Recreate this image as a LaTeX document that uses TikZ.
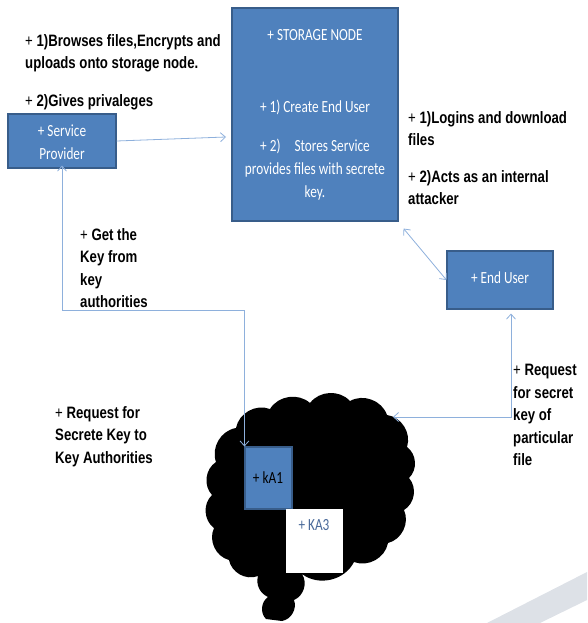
\documentclass[tikz,border=0pt]{standalone}
\usepackage{fontspec}
\usetikzlibrary{arrows.meta}
\newfontfamily\boxfont[FakeStretch=0.78]{Carlito}
\newfontfamily\notefont[FakeStretch=0.8]{Liberation Sans}
\definecolor{boxblue}{HTML}{4F81BD}
\definecolor{boxedge}{HTML}{385D8A}
\definecolor{linkblue}{HTML}{8EB0DC}
\definecolor{kathree}{HTML}{4A6A9A}
\definecolor{swoosh}{HTML}{DDE1E7}
\tikzset{
  blk/.style={draw=boxedge,fill=boxblue,line width=1.1pt,inner sep=0pt},
  boxtxt/.style={text=white,font=\boxfont\fontsize{17}{23}\selectfont,align=center,inner sep=0pt},
  notetxt/.style={font=\notefont\bfseries\fontsize{16.5}{22.5}\selectfont,align=left,anchor=north west,inner sep=0pt},
  link/.style={draw=linkblue,line width=0.8pt,{Straight Barb[length=5pt,width=9pt]}-{Straight Barb[length=5pt,width=9pt]}}
}
\begin{document}
\begin{tikzpicture}[x=1pt,y=-1pt]
      \useasboundingbox (0,0) rectangle (587,623);
      \fill[swoosh] (487,623) -- (587,572) -- (587,600) -- (540,623) -- cycle;
      % cloud of key authorities
      \fill[black] (236,428) to[bend left=50] (270,409) to[bend left=50] (310,403)
        to[bend left=50] (350,401) to[bend left=50] (387,415) to[bend left=50] (407,447)
        to[bend left=50] (409,478) to[bend left=50] (404,510) to[bend left=50] (388,543)
        to[bend left=50] (354,562) to[bend left=50] (302,574) to[bend left=50] (294,600)
        to[bend left=50] (282,621) -- (266,619) to[bend left=50] (268,597)
        to[bend left=40] (258,576) to[bend left=50] (229,560) to[bend left=50] (214,528)
        to[bend left=50] (212,495) to[bend left=50] (216,462) to[bend left=50] (236,428) -- cycle;
      \node[blk,minimum width=166pt,minimum height=213pt] (st) at (315,114.5) {};
      \node[boxtxt] (sttitle) at (315,35) {+ STORAGE NODE};
      \node[boxtxt] (stbody) at (315,150) {+ 1) Create End User\\[16pt]+ 2)\hspace{14pt}Stores Service\\provides files with secrete\\key.};
      \node[blk,minimum width=108pt,minimum height=54pt] (sp) at (62,141) {};
      \node[boxtxt] (sptxt) at (62,142) {+ Service\\Provider};
      \node[blk,minimum width=106pt,minimum height=58pt] (eu) at (500,280) {};
      \node[boxtxt] (eutxt) at (500,278) {+ End User};
      \node[blk,minimum width=47pt,minimum height=62pt] (ka1) at (268.5,478) {};
      \node[boxtxt,text=black] (ka1txt) at (268,478) {+ kA1};
      \node[fill=white,minimum width=57pt,minimum height=64pt,inner sep=0pt] (ka3) at (314.5,541) {};
      \node[boxtxt,text=kathree] (ka3txt) at (314,525) {+ KA3};
      \node[notetxt] (spnote1) at (25,34) {{\mdseries+} 1)Browses files,Encrypts and\\uploads onto storage node.};
      \node[notetxt] (spnote2) at (25,94) {{\mdseries+} 2)Gives privaleges};
      \node[notetxt] (eunote1) at (408,111) {{\mdseries+} 1)Logins and download\\files};
      \node[notetxt] (eunote2) at (408,170) {{\mdseries+} 2)Acts as an internal\\attacker};
      \node[notetxt] (getkey) at (80,228) {{\mdseries+} Get the\\Key from\\key\\authorities};
      \node[notetxt] (reqka) at (55,406) {{\mdseries+} Request for\\Secrete Key to\\Key Authorities};
      \node[notetxt] (reqeu) at (513,364) {{\mdseries+} Request\\for secret\\key of\\particular\\file};
      \coordinate (stin) at (226,137);
      \coordinate (cloudin) at (393,417);
      \begin{scope}[link]
        \draw[{}-{Straight Barb[length=5pt,width=9pt]}] (sp.east) -- (stin);
        \draw ([shift={(5,7)}]st.south east) -- (eu.west);
        \draw (ka1.north west) -- ++(0,-136) -| ([yshift=3pt]sp.south);
        \draw (cloudin) -| ([shift={(11,4)}]eu.south);
      \end{scope}
    \end{tikzpicture}
\end{document}
